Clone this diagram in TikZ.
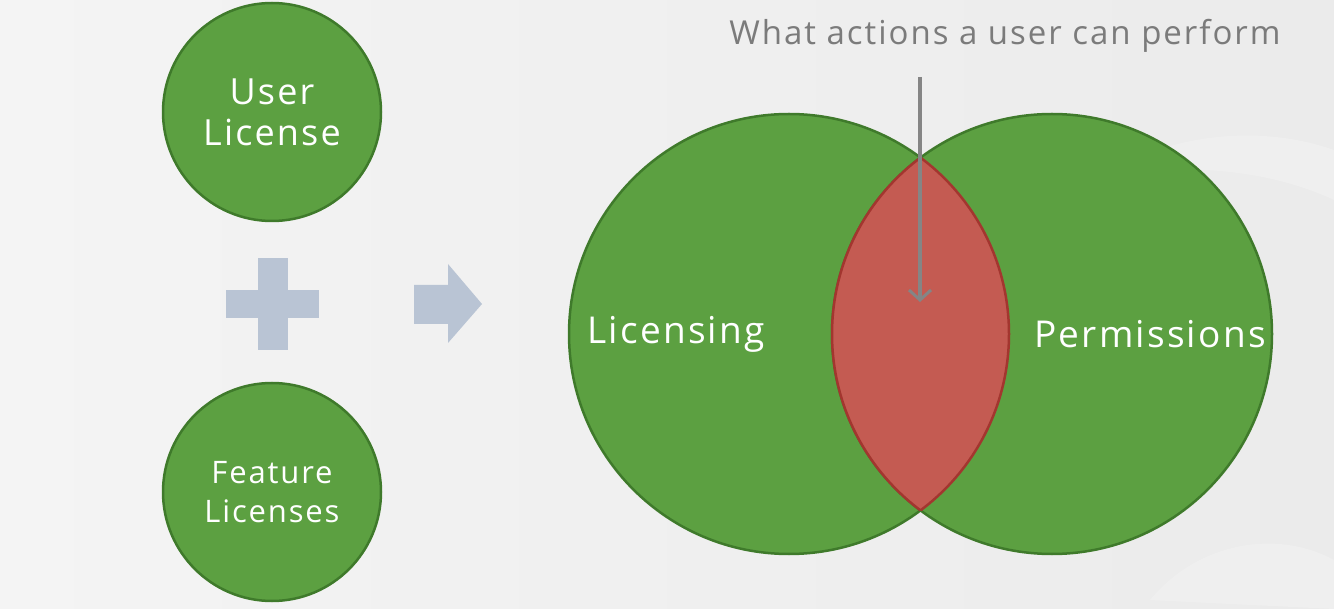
\documentclass[tikz,border=0pt]{standalone}
\usepackage{fontspec}
\setmainfont{Open Sans}[LetterSpace=6]
\usetikzlibrary{arrows.meta}
\definecolor{bgA}{HTML}{F4F4F4}
\definecolor{bgB}{HTML}{EBEBEB}
\definecolor{leaf}{HTML}{5CA041}
\definecolor{leafedge}{HTML}{3F7A2B}
\definecolor{lens}{HTML}{C45B52}
\definecolor{lensedge}{HTML}{A3362F}
\definecolor{steel}{HTML}{B9C4D4}
\definecolor{note}{HTML}{7B7B7B}
\definecolor{pointer}{HTML}{858585}
\tikzset{
  disc/.style={circle, fill=leaf, draw=leafedge, line width=2.5pt, text=white, align=center, inner sep=0pt},
  symb/.style={fill=steel, draw=none},
}
\begin{document}
\begin{tikzpicture}[x=1pt,y=-1pt]
\shade[left color=bgA, right color=bgB] (0,0) rectangle (1334,609);
\useasboundingbox (0,0) rectangle (1334,609);
% faint swooshes
\fill[white, opacity=0.2] (1334,150) .. controls (1250,120) and (1150,140) .. (1100,180) .. controls (1180,160) and (1270,170) .. (1334,200) -- cycle;
\fill[white, opacity=0.2] (1334,560) .. controls (1280,530) and (1200,540) .. (1150,600) -- (1334,609) -- cycle;

% small circles
\node[disc, minimum size=218pt, font=\fontsize{36}{41}\selectfont] (user) at (272,112) {User\\License};
\node[disc, minimum size=218pt, font=\fontsize{31}{39}\selectfont] (feat) at (272,492) {Feature\\Licenses};

% plus
\fill[symb] (226,290) rectangle (319,318);
\fill[symb] (258,258) rectangle (288,350);
\node[inner sep=0pt] (plus) at (272,304) {};
% arrow
\fill[symb] (414,285) -- (448,285) -- (448,264) -- (482,304) -- (448,343) -- (448,324) -- (414,324) -- cycle;

% Venn
\node[disc, minimum size=440pt] (lic) at (789,334) {};
\node[disc, minimum size=440pt] (perm) at (1052,334) {};
\begin{scope}
  \clip (789,334) circle (220pt);
  \fill[lens] (1052,334) circle (220pt);
\end{scope}
\begin{scope}
  \clip (789,334) circle (220pt);
  \draw[lensedge, line width=2.5pt] (1052,334) circle (220pt);
\end{scope}
\begin{scope}
  \clip (1052,334) circle (220pt);
  \draw[lensedge, line width=2.5pt] (789,334) circle (220pt);
\end{scope}
\node[text=white, font=\fontsize{37}{44}\selectfont] (licl) at (676,334) {Licensing};
\node[text=white, font=\fontsize{37}{44}\selectfont] (perml) at (1150,334) {Permissions};

% annotation
\node[text=note, font=\fontsize{33}{38}\selectfont] (what) at (1005,36) {What actions a user can perform};
\coordinate (ptop) at (920,77);
\coordinate (ptip) at (920,302);
\draw[pointer, line width=4pt, -{Straight Barb[length=10pt,width=22pt,line width=3pt]}] (ptop) -- (ptip);
\end{tikzpicture}
\end{document}
